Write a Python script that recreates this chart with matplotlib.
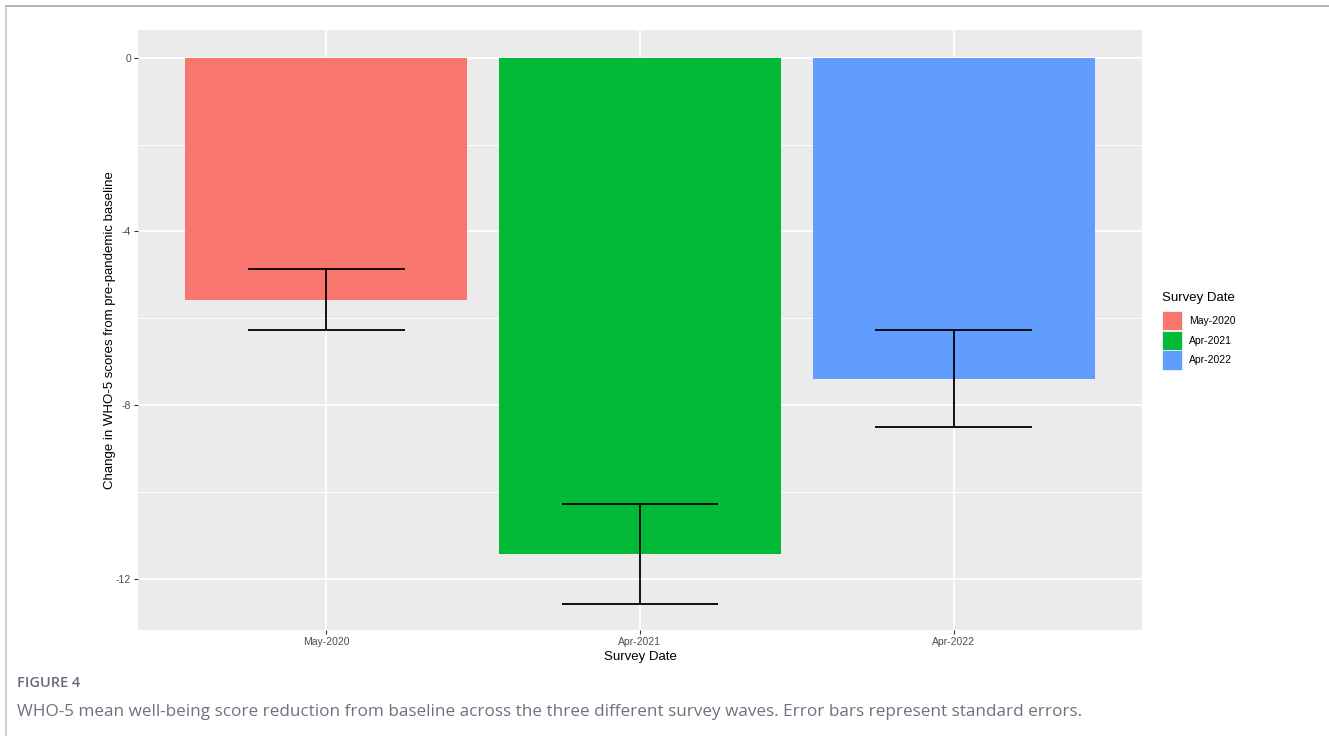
import numpy as np
import matplotlib.pyplot as plt
from matplotlib.lines import Line2D
from matplotlib.patches import Patch

# WHO-5 change from pre-pandemic baseline, by survey wave
waves = ['May-2020', 'Apr-2021', 'Apr-2022']
mean_change = [-5.57, -11.43, -7.39]
std_err = [0.71, 1.15, 1.12]
colors = ['#F8766D', '#00BA38', '#619CFF']

yticks = [0, -4, -8, -12]

fig = plt.figure(figsize=(13.29, 7.36), dpi=100)
ax = fig.add_axes([0.1038, 0.144, 0.7555, 0.8146])

x = np.arange(1, len(waves) + 1)
ax.set_facecolor('#EBEBEB')
ax.bar(x, mean_change, width=0.9, color=colors, zorder=2)
ax.vlines(x, np.array(mean_change) - np.array(std_err),
          np.array(mean_change) + np.array(std_err), color='black', lw=1.3, zorder=3)
for xi, m, s in zip(x, mean_change, std_err):
    ax.hlines([m - s, m + s], xi - 0.25, xi + 0.25, color='black', lw=1.3, zorder=3)

ax.set_xlim(0.4, 3.6)
ax.set_ylim(-13.18, 0.63)
ax.set_xticks(x)
ax.set_xticklabels(waves)
ax.set_yticks(yticks)
ax.set_yticklabels([str(t) for t in yticks])
ax.set_yticks([-2, -6, -10], minor=True)
ax.grid(which='major', color='white', lw=1.3, zorder=0)
ax.grid(which='minor', axis='y', color='white', lw=0.65, zorder=0)
ax.tick_params(which='major', length=3, width=0.8, color='#333333',
               labelsize=7.5, labelcolor='#4D4D4D', pad=2)
ax.tick_params(which='minor', length=0)
for sp in ax.spines.values():
    sp.set_visible(False)

ax.set_xlabel('Survey Date', fontsize=9.5, family='Liberation Sans', labelpad=3)
ax.set_ylabel('Change in WHO-5 scores from pre-pandemic baseline', fontsize=9.5,
              family='Liberation Sans', labelpad=-0.5)
for lab in ax.get_xticklabels() + ax.get_yticklabels():
    lab.set_family('Liberation Sans')

handles = [Patch(facecolor=c, edgecolor='white', lw=0.5) for c in colors]
leg = fig.legend(handles, waves, loc='upper left', bbox_to_anchor=(0.8743, 0.603),
                 frameon=False, title='Survey Date', title_fontsize=9.5,
                 handlelength=1.92, handleheight=2.45, handletextpad=0.67,
                 labelspacing=0.05, borderaxespad=0, borderpad=0,
                 prop={'family': 'Liberation Sans', 'size': 7.5})
leg.get_title().set_family('Liberation Sans')
leg._legend_box.align = 'left'
leg._legend_box.sep = 5  # gap between title and keys, in points

# page frame and caption
fig.add_artist(Line2D([6 / 1329, 1], [1 - 6 / 736, 1 - 6 / 736], color='#A4A4B2', lw=1.2))
fig.add_artist(Line2D([6 / 1329, 6 / 1329], [0, 1 - 6 / 736], color='#C4C4CC', lw=1.2))
fig.text(17 / 1329, 1 - 683 / 736, 'FIGURE 4', fontsize=10.5, color='#6B6B7B',
         family='Open Sans', fontweight='semibold', va='center')
fig.text(17 / 1329, 1 - 712 / 736,
         'WHO-5 mean well-being score reduction from baseline across the three different '
         'survey waves. Error bars represent standard errors.',
         fontsize=12.3, color='#707080', family='Open Sans', va='center')

fig.savefig('out.png', dpi=100)
